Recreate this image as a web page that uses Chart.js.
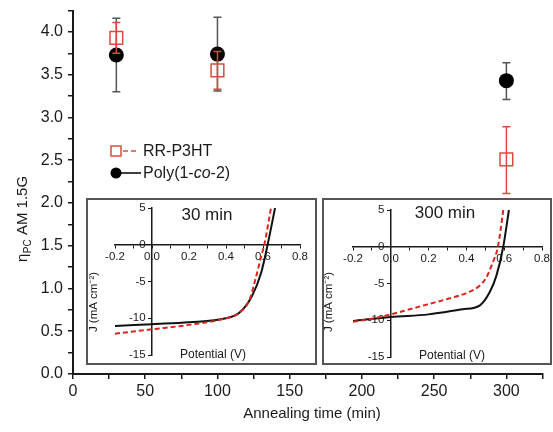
<!DOCTYPE html>
<html>
<head>
<meta charset="utf-8">
<script src="https://cdn.jsdelivr.net/npm/chart.js@4"></script>
<style>
  body { margin: 0; background: #fff; }
  #wrap { position: relative; width: 553px; height: 432px; }
  #wrap canvas { display: block; }
  .inset { position: absolute; box-sizing: border-box; border: 2px solid #555; background: #fff; }
</style>
</head>
<body>
<div id="wrap">
  <canvas id="main" width="553" height="432"></canvas>
  <div class="inset" style="left:86px;top:198px;width:231px;height:167px"><canvas id="in30" width="227" height="163"></canvas></div>
  <div class="inset" style="left:322px;top:198px;width:230px;height:167px"><canvas id="in300" width="226" height="163"></canvas></div>
</div>
<script>
// main plot: efficiency vs annealing time
const times = [30, 100, 300];
const p3ht = [3.93, 3.55, 2.51];
const p3htLow = [3.75, 3.33, 2.11];
const p3htHigh = [4.11, 3.77, 2.89];
const poly = [3.73, 3.74, 3.43];
const polyLow = [3.30, 3.31, 3.21];
const polyHigh = [4.16, 4.17, 3.64];

// insets: J-V curves
const v30Poly = [-0.2, 0, 0.2, 0.4, 0.47, 0.54, 0.59, 0.625, 0.665];
const j30Poly = [-11.05, -10.8, -10.55, -10.0, -9.3, -7.0, -3.8, 0, 5];
const v30P3ht = [-0.2, 0, 0.2, 0.4, 0.47, 0.527, 0.558, 0.59, 0.607, 0.643];
const j30P3ht = [-12.1, -11.5, -10.9, -10.0, -9.3, -7.5, -4.8, -1.6, 0, 5];
const v300Poly = [-0.2, 0, 0.2, 0.38, 0.47, 0.523, 0.558, 0.595, 0.625];
const j300Poly = [-10.1, -9.55, -9.2, -8.5, -8.0, -6.2, -4.0, 0, 5];
const v300P3ht = [-0.2, -0.1, 0, 0.1, 0.2, 0.3, 0.4, 0.47, 0.505, 0.54, 0.567, 0.595];
const j300P3ht = [-10.2, -9.8, -9.2, -8.5, -7.8, -7.1, -6.3, -5.3, -4.2, -2.1, 0, 5];

const FONT = "'Liberation Sans', Arial, sans-serif";
const RED = '#d84c3e';
const RED2 = '#d8261c';
const INK = '#1a1a1a';
Chart.defaults.font.family = FONT;
Chart.defaults.color = INK;

const pts = (xs, ys) => xs.map((x, i) => ({x: x, y: ys[i]}));

// error bars drawn just before each dataset's markers
const errorBars = {
  id: 'errorBars',
  beforeDatasetDraw(chart, args) {
    const ds = chart.data.datasets[args.index];
    if (!ds.errLow) return;
    const {ctx, scales: {x, y}} = chart;
    ctx.save();
    ctx.strokeStyle = ds.errColor;
    ctx.lineWidth = 1.5;
    ds.data.forEach((p, i) => {
      const px = x.getPixelForValue(p.x);
      const y1 = y.getPixelForValue(ds.errLow[i]);
      const y2 = y.getPixelForValue(ds.errHigh[i]);
      ctx.beginPath();
      ctx.moveTo(px, y1); ctx.lineTo(px, y2);
      ctx.moveTo(px - 4, y1); ctx.lineTo(px + 4, y1);
      ctx.moveTo(px - 4, y2); ctx.lineTo(px + 4, y2);
      ctx.stroke();
    });
    ctx.restore();
  }
};

const mainText = {
  id: 'mainText',
  afterDraw(chart) {
    const ctx = chart.ctx;
    ctx.save();
    ctx.fillStyle = INK;
    ctx.textBaseline = 'middle';

    // legend
    ctx.strokeStyle = RED; ctx.lineWidth = 1.5;
    ctx.strokeRect(111, 146, 10, 10);
    ctx.setLineDash([5, 3]);
    ctx.beginPath(); ctx.moveTo(123, 151); ctx.lineTo(139, 151); ctx.stroke();
    ctx.setLineDash([]);
    ctx.font = '16px ' + FONT;
    ctx.textAlign = 'left';
    ctx.fillText('RR-P3HT', 143, 152);

    ctx.fillStyle = '#000';
    ctx.beginPath(); ctx.arc(116, 173, 5.5, 0, Math.PI * 2); ctx.fill();
    ctx.strokeStyle = '#000'; ctx.lineWidth = 1.5;
    ctx.beginPath(); ctx.moveTo(121, 173); ctx.lineTo(141, 173); ctx.stroke();
    ctx.fillStyle = INK;
    let x = 143;
    ctx.fillText('Poly(1-', x, 174); x += ctx.measureText('Poly(1-').width;
    ctx.font = 'italic 16px ' + FONT;
    ctx.fillText('co', x, 174); x += ctx.measureText('co').width;
    ctx.font = '16px ' + FONT;
    ctx.fillText('-2)', x, 174);

    // x title
    ctx.font = '15px ' + FONT;
    ctx.textAlign = 'center';
    ctx.fillText('Annealing time (min)', 312, 414);

    // y title
    ctx.translate(23, 262);
    ctx.rotate(-Math.PI / 2);
    ctx.textAlign = 'left';
    ctx.font = '15px ' + FONT;
    ctx.fillText('\u03b7', 0, 0);
    let w = ctx.measureText('\u03b7').width;
    ctx.font = '10px ' + FONT;
    ctx.fillText('PC', w + 0.5, 5);
    w += ctx.measureText('PC').width + 0.5;
    ctx.font = '15px ' + FONT;
    ctx.fillText(' AM 1.5G', w, 0);
    ctx.restore();
  }
};

function noPad(s) {
  s.paddingTop = 0; s.paddingBottom = 0; s.paddingLeft = 0; s.paddingRight = 0;
}

new Chart(document.getElementById('main'), {
  type: 'scatter',
  data: {
    datasets: [
      {
        label: 'RR-P3HT',
        data: pts(times, p3ht),
        errLow: p3htLow, errHigh: p3htHigh, errColor: RED,
        pointStyle: 'rect', pointRadius: 9, pointBorderWidth: 1.5,
        borderColor: RED, backgroundColor: 'rgba(0,0,0,0)'
      },
      {
        label: 'Poly(1-co-2)',
        data: pts(times, poly),
        errLow: polyLow, errHigh: polyHigh, errColor: '#555',
        pointStyle: 'circle', pointRadius: 7.5, pointBorderWidth: 0,
        borderColor: '#000', backgroundColor: '#000'
      }
    ]
  },
  options: {
    responsive: false,
    animation: false,
    events: [],
    layout: {padding: {top: 10, left: 0, right: 0, bottom: 0}},
    plugins: {legend: {display: false}, tooltip: {enabled: false}},
    scales: {
      x: {
        type: 'linear', min: 0, max: 325,
        afterFit(s) { s.height = 58; noPad(s); },
        border: {color: INK, width: 2},
        grid: {drawOnChartArea: false, tickLength: 5, color: INK, lineWidth: 1.5},
        ticks: {
          stepSize: 25, autoSkip: false, maxRotation: 0, padding: 3,
          font: {size: 16},
          callback: v => v % 50 === 0 ? String(v) : ''
        }
      },
      y: {
        min: 0, max: 4.25,
        afterFit(s) { s.width = 73; noPad(s); },
        border: {color: INK, width: 2},
        grid: {drawOnChartArea: false, tickLength: 5, color: INK, lineWidth: 1.5},
        ticks: {
          stepSize: 0.25, autoSkip: false, padding: 5,
          font: {size: 16},
          callback: v => Math.abs(v * 2 - Math.round(v * 2)) < 1e-6 ? v.toFixed(1) : ''
        }
      }
    }
  },
  plugins: [errorBars, mainText]
});

const insetText = {
  id: 'insetText',
  afterDraw(chart, args, opts) {
    const ctx = chart.ctx;
    ctx.save();
    ctx.fillStyle = INK;
    ctx.textAlign = 'center';
    ctx.textBaseline = 'middle';
    ctx.font = '17px ' + FONT;
    ctx.fillText(opts.title, opts.tx, opts.ty);
    ctx.font = '12px ' + FONT;
    ctx.fillText('Potential (V)', opts.px, opts.py);
    ctx.translate(opts.jx, opts.jy);
    ctx.rotate(-Math.PI / 2);
    ctx.font = '11.5px ' + FONT;
    ctx.fillText('J (mA cm\u207b\u00b2)', 0, 0);
    ctx.restore();
  }
};

function makeInset(id, vPoly, jPoly, vP3ht, jP3ht, pad, text) {
  new Chart(document.getElementById(id), {
    type: 'scatter',
    data: {
      datasets: [
        {data: pts(vP3ht, jP3ht), showLine: true, borderColor: RED2, borderWidth: 2, borderDash: [5, 3],
         pointRadius: 0, cubicInterpolationMode: 'monotone'},
        {data: pts(vPoly, jPoly), showLine: true, borderColor: '#111', borderWidth: 2,
         pointRadius: 0, cubicInterpolationMode: 'monotone'}
      ]
    },
    options: {
      responsive: false,
      animation: false,
      events: [],
      layout: {padding: pad},
      plugins: {legend: {display: false}, tooltip: {enabled: false}, insetText: text},
      scales: {
        x: {
          type: 'linear', min: -0.2, max: 0.8, position: {y: 0},
          afterFit(s) { s.height = 0; noPad(s); },
          border: {color: INK, width: 1.5},
          grid: {drawOnChartArea: false, tickLength: 3, color: INK},
          ticks: {
            stepSize: 0.1, autoSkip: false, maxRotation: 0, padding: 2,
            font: {size: 11.5},
            callback: v => Math.abs(Math.round(v * 10)) % 2 === 0 ? v.toFixed(1) : ''
          }
        },
        y: {
          min: -15, max: 5, position: {x: 0},
          afterFit(s) { s.width = 0; noPad(s); },
          border: {color: INK, width: 1.5},
          grid: {drawOnChartArea: false, tickLength: 3, color: INK},
          ticks: {stepSize: 5, autoSkip: false, font: {size: 11.5}, callback: v => v + '  '}
        }
      }
    },
    plugins: [insetText]
  });
}

makeInset('in30', v30Poly, j30Poly, v30P3ht, j30P3ht,
  {left: 27, right: 15, top: 8, bottom: 8},
  {title: '30 min', tx: 119, ty: 15, px: 125, py: 155, jx: 6, jy: 102});
makeInset('in300', v300Poly, j300Poly, v300P3ht, j300P3ht,
  {left: 29, right: 8, top: 10, bottom: 6},
  {title: '300 min', tx: 121, ty: 13, px: 128, py: 156, jx: 5, jy: 102});
</script>
</body>
</html>
